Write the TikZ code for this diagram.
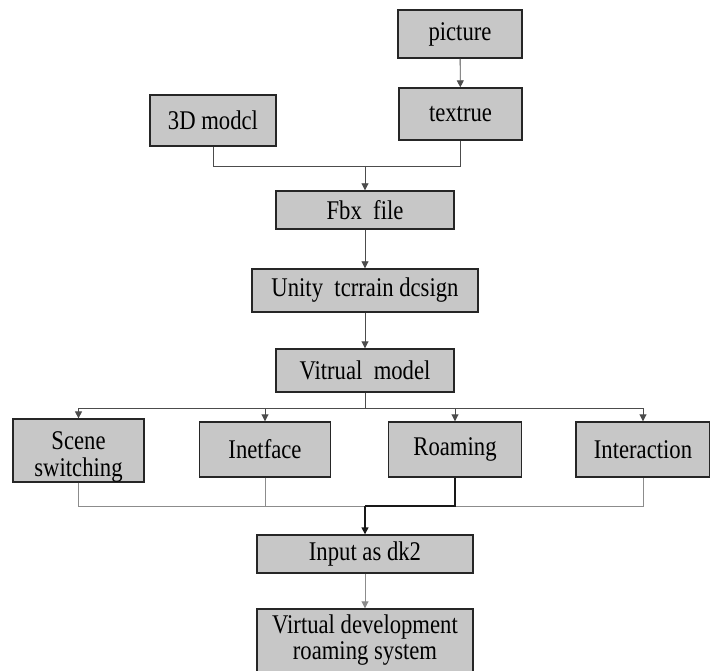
\documentclass[tikz,border=0pt]{standalone}
\usepackage{fontspec}
\setmainfont{Liberation Serif}
\usetikzlibrary{arrows.meta}
\newcommand{\sx}[1]{\scalebox{0.84}[1]{#1}}
\tikzset{
  box/.style={draw=black!85, line width=1.4pt, fill=black!22, inner sep=0pt,
    font=\fontsize{27}{29}\selectfont, align=center, anchor=center},
  link/.style={draw=black!70, line width=0.9pt},
  glink/.style={draw=black!45, line width=0.9pt},
  blink/.style={draw=black!90, line width=1.4pt},
  tip/.style={-{Triangle[length=7pt,width=7pt]}}
}
\begin{document}
\begin{tikzpicture}[x=1pt,y=-1pt]
\useasboundingbox (0,0) rectangle (710,671);
\node[box, minimum width=124, minimum height=48] (pic) at (460,34) {\sx{picture}};
\node[box, minimum width=123, minimum height=52] (tex) at (460.5,114) {\sx{textrue}};
\node[box, minimum width=126, minimum height=51] (m3d) at (213,120.5) {\sx{3D modcl}};
\node[box, minimum width=178, minimum height=38] (fbx) at (365,210) {\sx{Fbx\ \ file}};
\node[box, minimum width=226, minimum height=43] (uni) at (365,290.5) {\sx{Unity\ \ tcrrain dcsign}};
\node[box, minimum width=178, minimum height=43] (vm) at (365,370.5) {\sx{Vitrual\ \ model}};
\node[box, minimum width=131, minimum height=57] (scn) at (78.5,450.5) {\rule{0pt}{30pt}\sx{Scene}\\[-2pt]\sx{switching}};
\node[box, minimum width=131, minimum height=55] (int) at (265,449.5) {\sx{Inetface}};
\node[box, minimum width=133, minimum height=55] (roa) at (455,449.5) {\sx{Roaming}};
\node[box, minimum width=134, minimum height=55] (itr) at (643,449.5) {\sx{Interaction}};
\node[box, minimum width=216, minimum height=68] (inp2) at (365,643) {};
\node[box, minimum width=216, minimum height=38] (inp) at (365,554) {\sx{Input as dk2}};
\node[box, draw=none, fill=none, minimum width=216, minimum height=60] (vdv) at (365,640) {\sx{Virtual development}\\[-3pt]\sx{roaming system}};
\coordinate (j1) at (365,166);
\coordinate (j2) at (365,408);
\coordinate (j3) at (365,506);
% top
\draw[link,tip] (pic) -- (tex);
\draw[link] (m3d.south) |- (j1);
\draw[link] (tex.south) |- (j1);
\draw[link,tip] (j1) -- (fbx.north);
\draw[link,tip] (fbx) -- (uni);
\draw[link,tip] (uni) -- (vm);
% fan out
\draw[link] (vm.south) -- (j2);
\draw[link] (scn.north |- j2) -- (itr.north |- j2);
\draw[link,tip] (scn.north |- j2) -- (scn.north);
\draw[link,tip] (int.north |- j2) -- (int.north);
\draw[link,tip] (roa.north |- j2) -- (roa.north);
\draw[link,tip] (itr.north |- j2) -- (itr.north);
% fan in
\draw[glink] (scn.south) |- (itr.south |- j3) -- (itr.south);
\draw[glink] (int.south) -- (int.south |- j3);
\draw[blink] (roa.south) |- (j3);
\draw[blink,tip] (j3) -- (inp.north);
\draw[glink,tip] (inp) -- (inp2);
\end{tikzpicture}
\end{document}
